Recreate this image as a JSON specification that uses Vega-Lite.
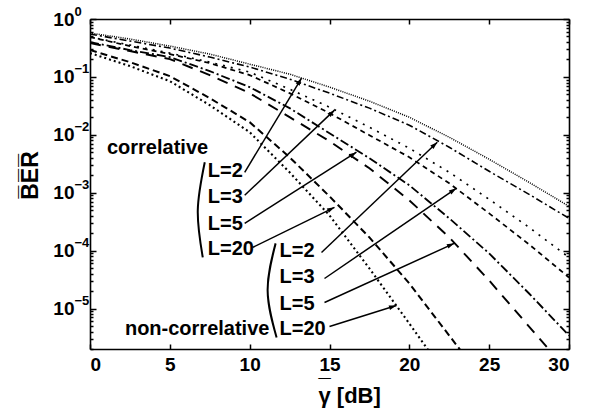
{
  "$schema": "https://vega.github.io/schema/vega-lite/v6.json",
  "width": 479,
  "height": 330,
  "autosize": {"type": "none"},
  "padding": {"left": 90, "top": 19, "right": 23, "bottom": 59},
  "background": "white",
  "config": {
    "view": {"stroke": null},
    "font": "Liberation Sans",
    "axis": {
      "grid": false,
      "domainColor": "black",
      "domainWidth": 1.6,
      "tickColor": "black",
      "tickWidth": 1.5,
      "labelFont": "Liberation Sans",
      "labelFontWeight": "bold",
      "labelFontSize": 19,
      "labelColor": "black",
      "titleFont": "Liberation Sans",
      "titleFontWeight": "bold",
      "titleColor": "black"
    }
  },
  "datasets": {
    "curves": [
      {"c": "corr L=2", "x": 0, "y": 0.573}, {"c": "corr L=2", "x": 2.5, "y": 0.451}, {"c": "corr L=2", "x": 5, "y": 0.341}, {"c": "corr L=2", "x": 7.5, "y": 0.248}, {"c": "corr L=2", "x": 10, "y": 0.166}, {"c": "corr L=2", "x": 12.5, "y": 0.1117}, {"c": "corr L=2", "x": 15, "y": 0.0667}, {"c": "corr L=2", "x": 17.5, "y": 0.0381}, {"c": "corr L=2", "x": 20, "y": 0.0201}, {"c": "corr L=2", "x": 22.5, "y": 0.00908}, {"c": "corr L=2", "x": 25, "y": 0.00378}, {"c": "corr L=2", "x": 27.5, "y": 0.00151}, {"c": "corr L=2", "x": 30, "y": 0.000582},
      {"c": "noncorr L=2", "x": 0, "y": 0.55}, {"c": "noncorr L=2", "x": 2.5, "y": 0.416}, {"c": "noncorr L=2", "x": 5, "y": 0.315}, {"c": "noncorr L=2", "x": 7.5, "y": 0.22}, {"c": "noncorr L=2", "x": 10, "y": 0.148}, {"c": "noncorr L=2", "x": 12.5, "y": 0.0916}, {"c": "noncorr L=2", "x": 15, "y": 0.0524}, {"c": "noncorr L=2", "x": 17.5, "y": 0.0289}, {"c": "noncorr L=2", "x": 20, "y": 0.01466}, {"c": "noncorr L=2", "x": 22.5, "y": 0.0061}, {"c": "noncorr L=2", "x": 25, "y": 0.002345}, {"c": "noncorr L=2", "x": 27.5, "y": 0.000938}, {"c": "noncorr L=2", "x": 30, "y": 0.000361},
      {"c": "corr L=3", "x": 0, "y": 0.488}, {"c": "corr L=3", "x": 2.5, "y": 0.355}, {"c": "corr L=3", "x": 5, "y": 0.258}, {"c": "corr L=3", "x": 7.5, "y": 0.18}, {"c": "corr L=3", "x": 10, "y": 0.121}, {"c": "corr L=3", "x": 12.5, "y": 0.0615}, {"c": "corr L=3", "x": 15, "y": 0.03}, {"c": "corr L=3", "x": 17.5, "y": 0.01354}, {"c": "corr L=3", "x": 20, "y": 0.00586}, {"c": "corr L=3", "x": 22.5, "y": 0.002254}, {"c": "corr L=3", "x": 25, "y": 0.000769}, {"c": "corr L=3", "x": 27.5, "y": 0.000252}, {"c": "corr L=3", "x": 30, "y": 0.0000763},
      {"c": "noncorr L=3", "x": 0, "y": 0.488}, {"c": "noncorr L=3", "x": 2.5, "y": 0.341}, {"c": "noncorr L=3", "x": 5, "y": 0.248}, {"c": "noncorr L=3", "x": 7.5, "y": 0.173}, {"c": "noncorr L=3", "x": 10, "y": 0.1074}, {"c": "noncorr L=3", "x": 12.5, "y": 0.0524}, {"c": "noncorr L=3", "x": 15, "y": 0.02364}, {"c": "noncorr L=3", "x": 17.5, "y": 0.00984}, {"c": "noncorr L=3", "x": 20, "y": 0.0041}, {"c": "noncorr L=3", "x": 22.5, "y": 0.001454}, {"c": "noncorr L=3", "x": 25, "y": 0.00044}, {"c": "noncorr L=3", "x": 27.5, "y": 0.000128}, {"c": "noncorr L=3", "x": 30, "y": 0.0000344},
      {"c": "corr L=5", "x": 0, "y": 0.4}, {"c": "corr L=5", "x": 2.5, "y": 0.291}, {"c": "corr L=5", "x": 5, "y": 0.22}, {"c": "corr L=5", "x": 7.5, "y": 0.126}, {"c": "corr L=5", "x": 10, "y": 0.0666}, {"c": "corr L=5", "x": 12.5, "y": 0.0289}, {"c": "corr L=5", "x": 15, "y": 0.01066}, {"c": "corr L=5", "x": 17.5, "y": 0.00394}, {"c": "corr L=5", "x": 20, "y": 0.001343}, {"c": "corr L=5", "x": 22.5, "y": 0.000361}, {"c": "corr L=5", "x": 25, "y": 0.0000894}, {"c": "corr L=5", "x": 27.5, "y": 0.00001818}, {"c": "corr L=5", "x": 30, "y": 0.00000341},
      {"c": "noncorr L=5", "x": 0, "y": 0.3845}, {"c": "noncorr L=5", "x": 2.5, "y": 0.2795}, {"c": "noncorr L=5", "x": 5, "y": 0.203}, {"c": "noncorr L=5", "x": 7.5, "y": 0.1074}, {"c": "noncorr L=5", "x": 10, "y": 0.0524}, {"c": "noncorr L=5", "x": 12.5, "y": 0.0202}, {"c": "noncorr L=5", "x": 15, "y": 0.00775}, {"c": "noncorr L=5", "x": 17.5, "y": 0.002643}, {"c": "noncorr L=5", "x": 20, "y": 0.000739}, {"c": "noncorr L=5", "x": 22.5, "y": 0.0001692}, {"c": "noncorr L=5", "x": 25, "y": 0.0000305}, {"c": "noncorr L=5", "x": 27.5, "y": 0.00000488}, {"c": "noncorr L=5", "x": 30, "y": 0.00000078},
      {"c": "corr L=20", "x": 0, "y": 0.291}, {"c": "corr L=20", "x": 2.5, "y": 0.18}, {"c": "corr L=20", "x": 5, "y": 0.1032}, {"c": "corr L=20", "x": 7.5, "y": 0.043}, {"c": "corr L=20", "x": 10, "y": 0.01652}, {"c": "corr L=20", "x": 12.5, "y": 0.0041}, {"c": "corr L=20", "x": 15, "y": 0.000866}, {"c": "corr L=20", "x": 17.5, "y": 0.0001692}, {"c": "corr L=20", "x": 20, "y": 0.00002707}, {"c": "corr L=20", "x": 22.5, "y": 0.00000341}, {"c": "corr L=20", "x": 25, "y": 0.00000043},
      {"c": "noncorr L=20", "x": 0, "y": 0.258}, {"c": "noncorr L=20", "x": 2.5, "y": 0.1538}, {"c": "noncorr L=20", "x": 5, "y": 0.0846}, {"c": "noncorr L=20", "x": 7.5, "y": 0.0325}, {"c": "noncorr L=20", "x": 10, "y": 0.01109}, {"c": "noncorr L=20", "x": 12.5, "y": 0.002254}, {"c": "noncorr L=20", "x": 15, "y": 0.000406}, {"c": "noncorr L=20", "x": 17.5, "y": 0.0000492}, {"c": "noncorr L=20", "x": 20, "y": 0.0000055}, {"c": "noncorr L=20", "x": 22.5, "y": 0.00000059}
    ],
    "arrows": [
      {"x": 9.6875, "y": 0.002254, "x2": 13.25, "y2": 0.0953},
      {"x": 9.6875, "y": 0.000902, "x2": 15.3125, "y2": 0.02665},
      {"x": 9.6875, "y": 0.000296, "x2": 16.6875, "y2": 0.005},
      {"x": 10.1875, "y": 0.0001135, "x2": 15.3125, "y2": 0.000559},
      {"x": 14.5, "y": 0.0000931, "x2": 21.75, "y2": 0.00745},
      {"x": 14.6875, "y": 0.000033, "x2": 22.9375, "y2": 0.00119},
      {"x": 14.6875, "y": 0.0000127, "x2": 22.8125, "y2": 0.0001334},
      {"x": 15, "y": 0.00000489, "x2": 19.1875, "y2": 0.00001127}
    ],
    "parens": [
      {"p": "corr", "x": 7.1875, "y": 0.00336}, {"p": "corr", "x": 6.75, "y": 0.000496}, {"p": "corr", "x": 7.0625, "y": 0.0000763},
      {"p": "non", "x": 11.625, "y": 0.0001334}, {"p": "non", "x": 11.125, "y": 0.0000205}, {"p": "non", "x": 11.6875, "y": 0.00000315}
    ],
    "labels": [
      {"label": "correlative", "x": 1.0625, "y": 0.00586},
      {"label": "L=2", "x": 7.375, "y": 0.002345},
      {"label": "L=3", "x": 7.375, "y": 0.000832},
      {"label": "L=5", "x": 7.375, "y": 0.000284},
      {"label": "L=20", "x": 7.375, "y": 0.0001049},
      {"label": "L=2", "x": 11.875, "y": 0.0000969},
      {"label": "L=3", "x": 11.875, "y": 0.0000344},
      {"label": "L=5", "x": 11.875, "y": 0.0000122},
      {"label": "L=20", "x": 11.875, "y": 0.00000451},
      {"label": "non-correlative", "x": 2.1875, "y": 0.00000451}
    ]
  },
  "layer": [
    {
      "layer": [
        {
          "data": {"name": "curves"},
          "mark": {"type": "line", "clip": true, "color": "black"},
          "encoding": {
            "x": {
              "field": "x", "type": "quantitative",
              "scale": {"domain": [0, 30], "nice": false, "zero": false},
              "axis": {
                "orient": "bottom",
                "values": [0, 5, 10, 15, 20, 25, 30],
                "tickSize": -5,
                "labelPadding": 11,
                "title": ["_", "\u03b3  [dB]"],
                "titleFontSize": 22,
                "titleLineHeight": 27,
                "titleX": 228,
                "titleY": 26,
                "titleAlign": "left",
                "titleBaseline": "alphabetic"
              }
            },
            "y": {
              "field": "y", "type": "quantitative",
              "scale": {"type": "log", "domain": [0.000002, 1], "nice": false},
              "axis": {
                "orient": "left",
                "values": [1, 0.9, 0.8, 0.7, 0.6, 0.5, 0.4, 0.3, 0.2, 0.1, 0.09, 0.08, 0.07, 0.06, 0.05, 0.04, 0.03, 0.02, 0.01, 0.009, 0.008, 0.007, 0.006, 0.005, 0.004, 0.003, 0.002, 0.001, 0.0009, 0.0008, 0.0007, 0.0006, 0.0005, 0.0004, 0.0003, 0.0002, 0.0001, 0.00009, 0.00008, 0.00007, 0.00006, 0.00005, 0.00004, 0.00003, 0.00002, 0.00001, 0.000009, 0.000008, 0.000007, 0.000006, 0.000005, 0.000004, 0.000003, 0.000002],
                "tickSize": {"condition": {"test": "abs(log(datum.value)/LN10 - round(log(datum.value)/LN10)) < 0.001", "value": -6}, "value": -3},
                "labelExpr": "abs(log(datum.value)/LN10 - round(log(datum.value)/LN10)) < 0.001 ? '10' : ''",
                "labelPadding": 22,
                "labelAlign": "right",
                "labelBaseline": "middle",
                "title": "B\u0305E\u0305R\u0305",
                "titleFontSize": 23,
                "titleAngle": 270,
                "titleX": -53,
                "titleY": 156,
                "titleAlign": "center",
                "titleBaseline": "alphabetic"
              }
            },
            "detail": {"field": "c", "type": "nominal"},
            "strokeDash": {
              "field": "c", "type": "nominal", "legend": null,
              "scale": {
                "domain": ["corr L=2", "noncorr L=2", "corr L=3", "noncorr L=3", "corr L=5", "noncorr L=5", "corr L=20", "noncorr L=20"],
                "range": [[1, 1.2], [7, 3, 2, 3], [2, 6], [5, 4], [9, 3, 2, 3], [11, 8], [7, 4], [2, 3]]
              }
            },
            "strokeWidth": {
              "field": "c", "type": "nominal", "legend": null,
              "scale": {
                "domain": ["corr L=2", "noncorr L=2", "corr L=3", "noncorr L=3", "corr L=5", "noncorr L=5", "corr L=20", "noncorr L=20"],
                "range": [1.5, 2.1, 2.2, 2.1, 2.1, 2.1, 2.1, 2.2]
              }
            }
          }
        },
        {
          "data": {"name": "arrows"},
          "mark": {"type": "rule", "color": "black", "strokeWidth": 1.5},
          "encoding": {
            "x": {"field": "x", "type": "quantitative", "scale": {"domain": [0, 30], "nice": false, "zero": false}},
            "y": {"field": "y", "type": "quantitative", "scale": {"type": "log", "domain": [0.000002, 1], "nice": false}},
            "x2": {"field": "x2"},
            "y2": {"field": "y2"}
          }
        },
        {
          "data": {"name": "arrows"},
          "transform": [
            {"calculate": "atan2((datum.x2 - datum.x) * 16, (log(datum.y2) - log(datum.y)) / LN10 * 57.8) * 180 / PI", "as": "ang"}
          ],
          "mark": {"type": "point", "shape": "M0,0L-0.32,1L0.32,1Z", "filled": true, "color": "black", "opacity": 1, "size": 220, "strokeWidth": 0},
          "encoding": {
            "x": {"field": "x2", "type": "quantitative", "scale": {"domain": [0, 30], "nice": false, "zero": false}},
            "y": {"field": "y2", "type": "quantitative", "scale": {"type": "log", "domain": [0.000002, 1], "nice": false}},
            "angle": {"field": "ang", "type": "quantitative", "scale": null}
          }
        },
        {
          "data": {"name": "parens"},
          "mark": {"type": "line", "color": "black", "strokeWidth": 2, "interpolate": "natural"},
          "encoding": {
            "x": {"field": "x", "type": "quantitative", "scale": {"domain": [0, 30], "nice": false, "zero": false}},
            "y": {"field": "y", "type": "quantitative", "scale": {"type": "log", "domain": [0.000002, 1], "nice": false}},
            "detail": {"field": "p", "type": "nominal"},
            "order": {"field": "y", "sort": "descending"}
          }
        },
        {
          "data": {"name": "labels"},
          "mark": {"type": "text", "align": "left", "baseline": "middle", "font": "Liberation Sans", "fontWeight": "bold", "fontSize": 20, "color": "black"},
          "encoding": {
            "x": {"field": "x", "type": "quantitative", "scale": {"domain": [0, 30], "nice": false, "zero": false}},
            "y": {"field": "y", "type": "quantitative", "scale": {"type": "log", "domain": [0.000002, 1], "nice": false}},
            "text": {"field": "label"}
          }
        }
      ]
    },
    {
      "data": {"name": "curves"},
      "mark": {"type": "point", "opacity": 0},
      "encoding": {
        "x": {
          "field": "x", "type": "quantitative",
          "scale": {"domain": [0, 30], "nice": false, "zero": false},
          "axis": {"orient": "top", "values": [0, 5, 10, 15, 20, 25, 30], "tickSize": -5, "labels": false, "title": null}
        },
        "y": {
          "field": "y", "type": "quantitative",
          "scale": {"type": "log", "domain": [0.000002, 1], "nice": false},
          "axis": {
            "orient": "right",
            "values": [1, 0.9, 0.8, 0.7, 0.6, 0.5, 0.4, 0.3, 0.2, 0.1, 0.09, 0.08, 0.07, 0.06, 0.05, 0.04, 0.03, 0.02, 0.01, 0.009, 0.008, 0.007, 0.006, 0.005, 0.004, 0.003, 0.002, 0.001, 0.0009, 0.0008, 0.0007, 0.0006, 0.0005, 0.0004, 0.0003, 0.0002, 0.0001, 0.00009, 0.00008, 0.00007, 0.00006, 0.00005, 0.00004, 0.00003, 0.00002, 0.00001, 0.000009, 0.000008, 0.000007, 0.000006, 0.000005, 0.000004, 0.000003, 0.000002],
            "tickSize": {"condition": {"test": "abs(log(datum.value)/LN10 - round(log(datum.value)/LN10)) < 0.001", "value": -6}, "value": -3},
            "labels": false,
            "title": null
          }
        }
      }
    },
    {
      "data": {"name": "curves"},
      "mark": {"type": "point", "opacity": 0},
      "encoding": {
        "x": {
          "field": "x", "type": "quantitative",
          "scale": {"domain": [0, 30], "nice": false, "zero": false},
          "axis": null
        },
        "y": {
          "field": "y", "type": "quantitative",
          "scale": {"type": "log", "domain": [0.000002, 1], "nice": false},
          "axis": {
            "orient": "left",
            "values": [1, 0.1, 0.01, 0.001, 0.0001, 0.00001],
            "domain": false,
            "ticks": false,
            "tickSize": 0,
            "labelExpr": "format(round(log(datum.value)/LN10), 'd')",
            "labelFontSize": 13,
            "labelAlign": "left",
            "labelBaseline": "middle",
            "labelPadding": 16,
            "labelOffset": -8,
            "title": null
          }
        }
      }
    }
  ],
  "resolve": {"axis": {"x": "independent", "y": "independent"}}
}
